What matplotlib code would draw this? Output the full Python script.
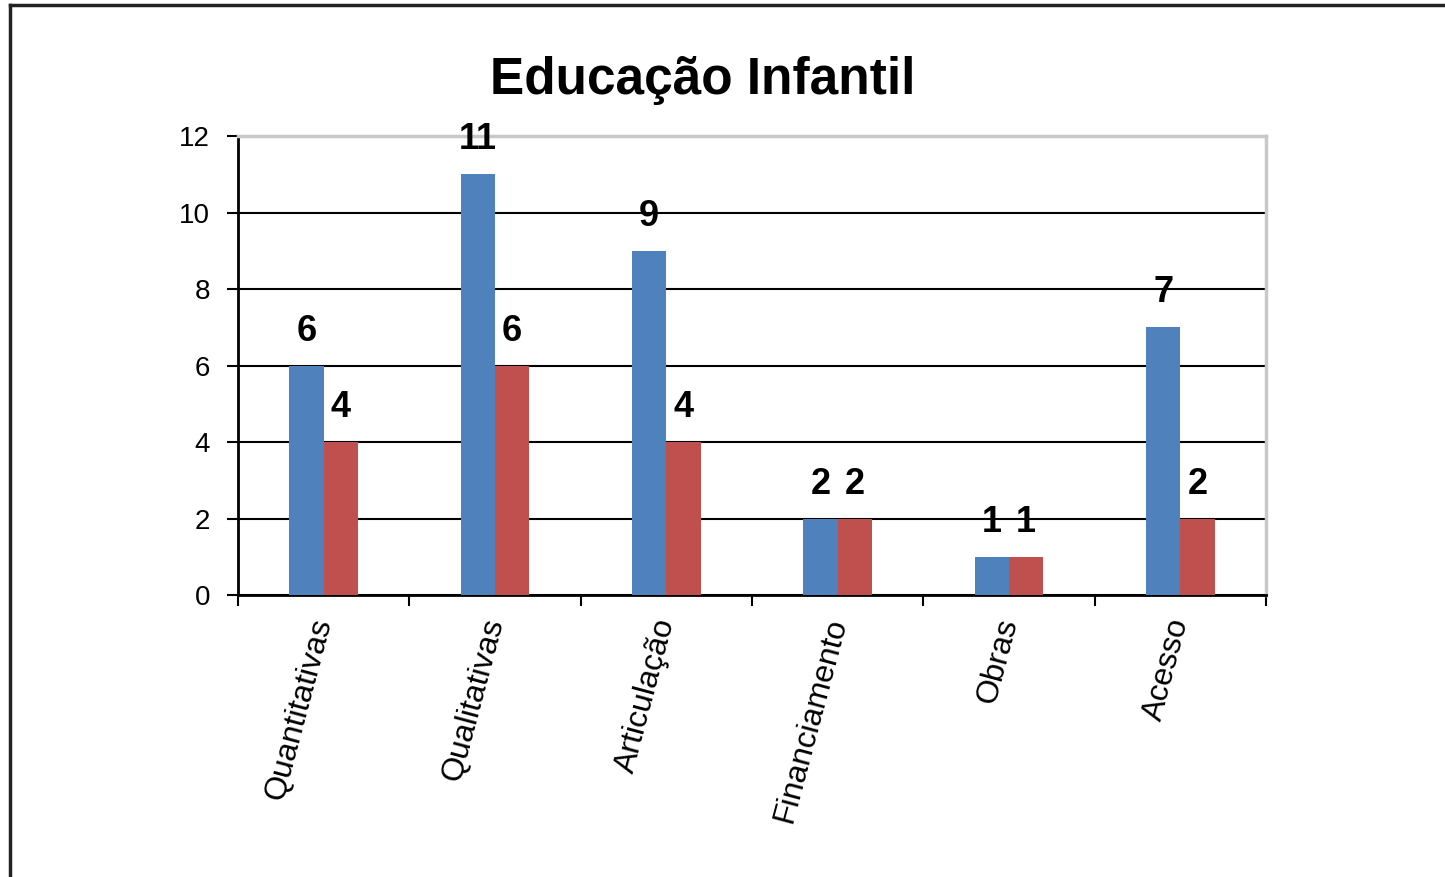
import numpy as np
import matplotlib
matplotlib.use('Agg')
import matplotlib.pyplot as plt
from matplotlib.lines import Line2D

plt.rcParams['font.family'] = ['Liberation Sans', 'DejaVu Sans']

# data
categorias = ['Quantitativas', 'Qualitativas', 'Articulação', 'Financiamento', 'Obras', 'Acesso']
serie_azul = [6, 11, 9, 2, 1, 7]
serie_vermelha = [4, 6, 4, 2, 1, 2]
titulo = 'Educação Infantil'

cor_azul = '#4F81BD'
cor_vermelha = '#C0504D'

fig = plt.figure(figsize=(14.45, 8.77), dpi=100)
ax = fig.add_axes([0.1647, 0.3215, 0.7114, 0.5234])

x = np.arange(len(categorias))
largura = 0.2
barras_a = ax.bar(x - largura / 2, serie_azul, largura, color=cor_azul, zorder=3)
barras_v = ax.bar(x + largura / 2, serie_vermelha, largura, color=cor_vermelha, zorder=3)

for barras in (barras_a, barras_v):
    for b in barras:
        ax.annotate(f'{int(b.get_height())}',
                    (b.get_x() + b.get_width() / 2, b.get_height()),
                    xytext=(0, 18), textcoords='offset points',
                    ha='center', va='baseline', fontsize=26, fontweight='bold',
                    zorder=4)

ax.set_xlim(-0.5, len(categorias) - 0.5)
ax.set_ylim(0, 12)
ax.set_yticks(range(0, 13, 2))
ax.yaxis.grid(True, color='black', linewidth=1.5, zorder=1)
ax.set_axisbelow(True)

# boundaries get the tick marks, centres get the labels
ax.set_xticks(np.arange(-0.5, len(categorias), 1.0))
ax.set_xticklabels([])
ax.set_xticks(x, minor=True)
ax.set_xticklabels(categorias, minor=True, rotation=75, rotation_mode='anchor',
                   ha='right', va='center', fontsize=23)
ax.tick_params(axis='x', which='minor', length=0, pad=17)
ax.tick_params(axis='x', which='major', length=8, width=1.5, direction='out')
ax.tick_params(axis='y', length=8, width=1.5, pad=12, labelsize=20)

for lado in ('left', 'bottom'):
    ax.spines[lado].set_color('black')
    ax.spines[lado].set_linewidth(2)
for lado in ('top', 'right'):
    ax.spines[lado].set_color('#c8c8c8')
    ax.spines[lado].set_linewidth(2.5)

fig.text(0.486, 0.893, titulo, ha='center', va='baseline',
         fontsize=37, fontweight='bold')

# outer frame (top and left edges visible)
fig.add_artist(Line2D([10 / 1445, 1], [1 - 5 / 877, 1 - 5 / 877],
                      transform=fig.transFigure, color='#222222', linewidth=2.5))
fig.add_artist(Line2D([10 / 1445, 10 / 1445], [0, 1 - 5 / 877],
                      transform=fig.transFigure, color='#222222', linewidth=2.5))

fig.savefig('out.png', dpi=100)
